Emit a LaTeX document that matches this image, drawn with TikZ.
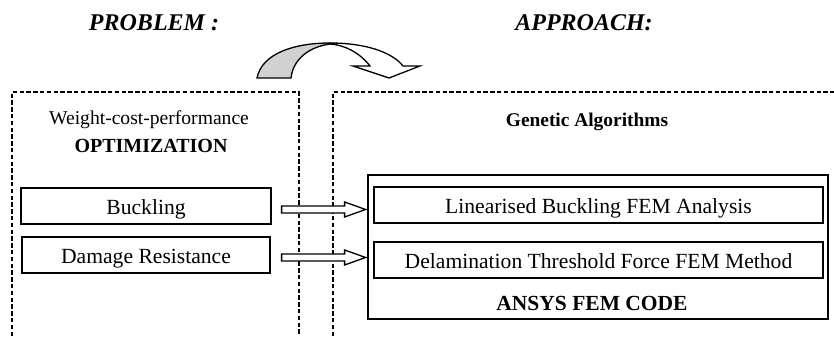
\documentclass[tikz,border=0pt]{standalone}
\usepackage{fontspec}
\setmainfont{Liberation Serif}
\usetikzlibrary{calc}
\begin{document}
\begin{tikzpicture}[x=0.5pt,y=-0.5pt,
  frame/.style={draw, line width=0.9pt, dash pattern=on 2.2pt off 1.2pt},
  box/.style={draw, line width=0.6pt, inner sep=0pt, font=\fontsize{10.8}{13}\selectfont, text height=8pt, text depth=0pt},
  hollow/.style={draw, line width=0.65pt, fill=white, line join=miter},
  title/.style={font=\fontsize{12}{14}\selectfont\bfseries\itshape, anchor=base, inner sep=0pt},
  label/.style={anchor=base, inner sep=0pt},
]
\useasboundingbox (0,0) rectangle (834,337);
% titles
\node[title] (prob) at (154,30) {PROBLEM :};
\node[title] (appr) at (584,30) {APPROACH:};
% dashed frames
\draw[frame] (12,336) -- (12,92) -- (299,92) -- (299,336);
\draw[frame] (333,336) -- (333,92) -- (834,92);
% curved arrow
\draw[hollow] (330,43) .. controls (365,43) and (392,52) .. (403,66) -- (420,66) -- (389,78) -- (353,66) -- (370,66) .. controls (360,53) and (345,45) .. (330,44) -- cycle;
\draw[line width=0.65pt, fill=black!18, line join=miter] (257,78) .. controls (262,53) and (295,43) .. (330,43) -- (330,44) .. controls (308,47) and (293,60) .. (291,78) -- cycle;
% left texts
\node[label, font=\fontsize{9.8}{12}\selectfont] (wcp) at (149,124) {Weight-cost-performance};
\node[label, font=\fontsize{10}{12}\selectfont\bfseries] (opt) at (151,152) {OPTIMIZATION};
\node[box, minimum width=125pt, minimum height=18pt] (b1) at (146,206) {Buckling};
\node[box, minimum width=124pt, minimum height=18pt] (b2) at (146,255) {Damage Resistance};
% right texts
\node[label, font=\fontsize{9.7}{12}\selectfont\bfseries] (ga) at (587,126) {Genetic Algorithms};
\node[draw, line width=0.7pt, minimum width=230pt, minimum height=72pt, inner sep=0pt] (ansys) at (598,247) {};
\node[box, minimum width=224.5pt, minimum height=18pt] (l1) at (598.5,205) {Linearised Buckling FEM Analysis};
\node[box, minimum width=224.5pt, minimum height=18pt] (l2) at (598.5,260) {Delamination Threshold Force FEM Method};
\node[label, font=\fontsize{10.75}{13}\selectfont\bfseries] (code) at (592,310) {ANSYS FEM CODE};
% hollow arrows
\draw[hollow] ($(b1.east)+(10,0)$) -- ++(63,0) -- ++(0,-4) -- ++(21,7.5) -- ++(-21,7.5) -- ++(0,-4) -- ++(-63,0) -- cycle;
\draw[hollow] ($(b2.east)+(11,-1)$) -- ++(63,0) -- ++(0,-4) -- ++(21,7.5) -- ++(-21,7.5) -- ++(0,-4) -- ++(-63,0) -- cycle;
\end{tikzpicture}
\end{document}
